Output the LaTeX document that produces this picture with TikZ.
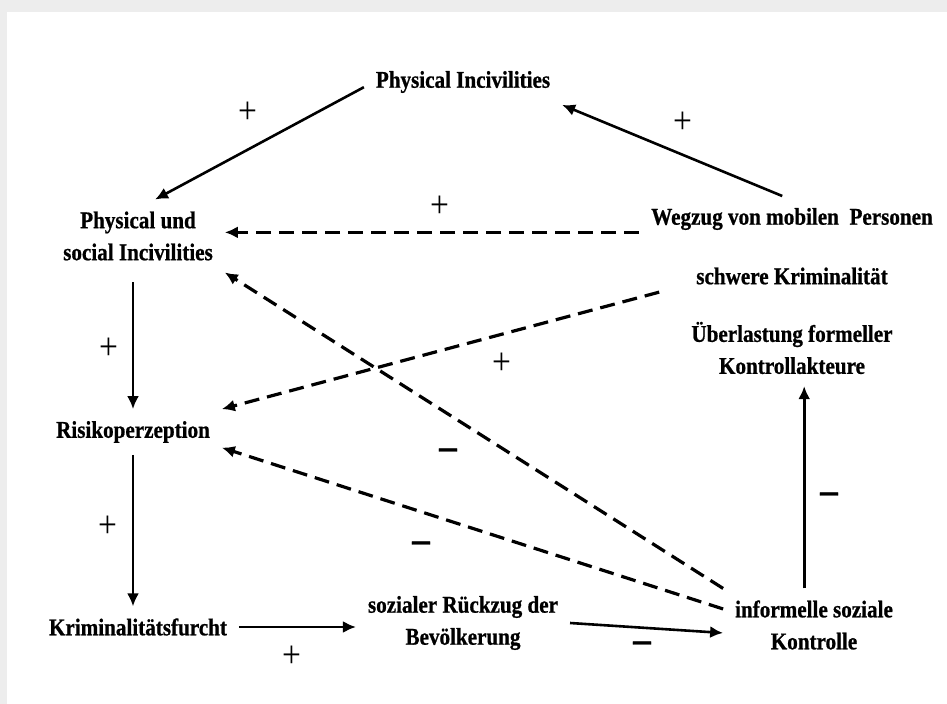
\documentclass[tikz,border=0pt]{standalone}
\usepackage{fontspec}
\usetikzlibrary{arrows.meta}
\setmainfont{Liberation Serif}[FakeStretch=0.88,BoldFeatures={FakeBold=0.8}]
\begin{document}
\begin{tikzpicture}[>={Latex[length=6.5pt,width=6pt]},line join=bevel,x=0.5pt,y=-0.5pt,
  factor/.style={inner sep=0pt,outer sep=6pt,align=center,font=\fontsize{12}{16}\selectfont\bfseries},
  sign/.style={inner sep=0pt,font=\fontsize{19}{21}\selectfont},
  neg/.style={inner sep=0pt,font=\fontsize{20}{22}\selectfont\bfseries},
  effect/.style={black,->,line width=1.3pt},
  weak effect/.style={black,->,line width=1.6pt,dash pattern=on 7.5pt off 4pt}]

 \fill [black!7] (0,0) rectangle (947,704);
 \fill [white] (7,12) rectangle (947,704);
 \useasboundingbox (0,0) rectangle (947,704);

 \node (node_phys) at (463,82) [factor] {Physical Incivilities};
 \node (node_physsoc) at (138,236) [factor] {Physical und\\social Incivilities};
 \node (node_weg) at (792,219) [factor] {Wegzug von mobilen\ \ Personen};
 \node (node_schwer) at (792,276) [factor] {schwere Kriminalität};
 \node (node_ueber) at (792,348) [factor] {Überlastung formeller\\Kontrollakteure};
 \node (node_risk) at (133,432) [factor] {Risikoperzeption};
 \node (node_krim) at (138,627) [factor] {Kriminalitätsfurcht};
 \node (node_rueck) at (463,623) [factor] {sozialer Rückzug der\\Bevölkerung};
 \node (node_inf) at (814,625) [factor] {informelle soziale\\Kontrolle};

 \draw [effect] (node_phys.183) -- (node_physsoc.65);
 \draw [effect] (node_weg.113) -- (node_phys.south east);
 \draw [weak effect] (node_weg.185) -- (node_weg.185 -| node_physsoc.east);
 \draw [effect,shorten <=5pt] (node_physsoc.south -| node_risk.north) -- (node_risk.north);
 \draw [weak effect,shorten <=13pt] (node_schwer.185) -- (node_risk.north east);
 \draw [weak effect] (node_inf.north west) -- (node_physsoc.south east);
 \draw [weak effect] (node_inf.170) -- (node_risk.350);
 \draw [effect] (node_risk.south) -- (node_risk.south |- node_krim.north);
 \draw [effect] (node_krim.east) -- (node_krim.east -| node_rueck.west);
 \draw [effect] (node_rueck.east) -- (node_inf.185);
 \draw [effect] (node_inf.105) -- (node_inf.105 |- node_ueber.south);

 \node (sign_1) at (248,113) [sign] {+};
 \node (sign_2) at (683,123) [sign] {+};
 \node (sign_3) at (440,207) [sign] {+};
 \node (sign_4) at (109,349) [sign] {+};
 \node (sign_5) at (502,364) [sign] {+};
 \node (sign_6) at (448,454) [neg] {–};
 \node (sign_7) at (421,547) [neg] {–};
 \node (sign_8) at (108,527) [sign] {+};
 \node (sign_9) at (292,657) [sign] {+};
 \node (sign_10) at (642,647) [neg] {–};
 \node (sign_11) at (829,498) [neg] {–};

\end{tikzpicture}
\end{document}
